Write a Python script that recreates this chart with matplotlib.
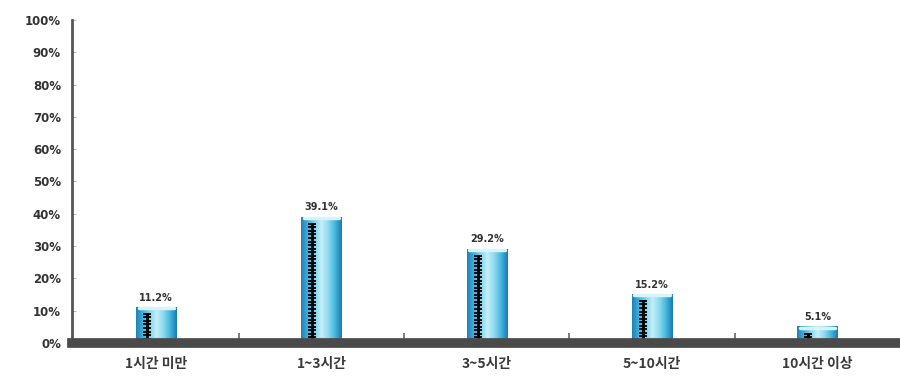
import numpy as np
import matplotlib
matplotlib.use("Agg")
import matplotlib.pyplot as plt
from matplotlib.colors import LinearSegmentedColormap

plt.rcParams['font.family'] = ['Noto Sans CJK KR', 'DejaVu Sans']

# data
categories = ['1시간 미만', '1~3시간', '3~5시간', '5~10시간', '10시간 이상']
values = [11.2, 39.1, 29.2, 15.2, 5.1]
value_labels = ['11.2%', '39.1%', '29.2%', '15.2%', '5.1%']
y_ticks = [0, 10, 20, 30, 40, 50, 60, 70, 80, 90, 100]

fig = plt.figure(figsize=(9, 3.81), dpi=100)
ax = fig.add_axes([0.08, 0.1, 0.92, 0.8475])

# cylinder-like shading across the bar width
cyl = LinearSegmentedColormap.from_list(
    'cyl', ['#1f82b8', '#3fb2dc', '#7fd3ec', '#c4eff8', '#8fdaf0', '#46b8e0', '#1c7cb0'])
grad = np.linspace(0, 1, 64).reshape(1, -1)

w = 0.245
x = np.arange(len(categories))
for i, v in enumerate(values):
    im = ax.imshow(grad, cmap=cyl, aspect='auto', extent=(i - w/2, i + w/2, 0, v), zorder=2)
    bar = ax.bar(i, v, width=w, color='none', edgecolor='none', zorder=2)[0]
    im.set_clip_path(bar)
    # light cap on top
    ax.plot([i - w/2 + 0.015, i + w/2 - 0.015], [v - 0.4, v - 0.4], color='#d8f4fb', lw=2.5,
            solid_capstyle='round', zorder=3)
    # black ruler line inside bar
    top = v - 2.2
    if top > 0:
        ax.plot([i - 0.055, i - 0.055], [0, top], color='black', lw=2, zorder=4)
        marks = np.arange(top, 0, -1.1)
        ax.plot(np.full(len(marks), i - 0.055), marks, ls='none', marker='_',
                ms=6, mew=1.3, color='black', zorder=4)
    ax.text(i, v + 1.3, value_labels[i], ha='center', va='bottom', fontsize=7,
            fontweight='bold', color='#333333', family='DejaVu Sans')

ax.set_xlim(-0.51, 4.5)
ax.set_ylim(0, 100)
ax.set_xticks(x)
ax.set_xticklabels(categories, fontsize=10, color='#3a3a3a', fontweight='bold')
ax.set_xticks(x[:-1] + 0.5, minor=True)
ax.tick_params(axis='x', which='major', length=0, pad=10)
ax.tick_params(axis='x', which='minor', direction='in', length=7, width=1.2, color='#666666')

ax.set_yticks(y_ticks)
ax.set_yticklabels([f'{t}%' for t in y_ticks], fontsize=8.5, fontweight='bold',
                   color='#333333', family='DejaVu Sans')
ax.tick_params(axis='y', direction='in', length=3, color='#bbbbbb', pad=8)

for s in ['top', 'right']:
    ax.spines[s].set_visible(False)
ax.spines['left'].set_color('#555555')
ax.spines['left'].set_linewidth(2)
ax.spines['bottom'].set_color('#4a4a4a')
ax.spines['bottom'].set_linewidth(7)
ax.spines['bottom'].set_zorder(5)

fig.savefig('out.png', dpi=100)
